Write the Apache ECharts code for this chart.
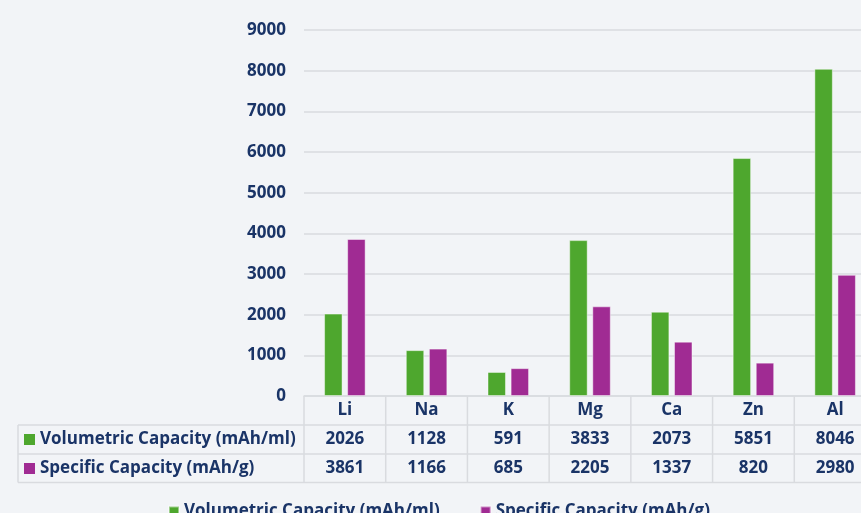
<!DOCTYPE html>
<html>
<head>
<meta charset="utf-8">
<script src="https://cdn.jsdelivr.net/npm/echarts@6/dist/echarts.min.js"></script>
<style>
html,body{margin:0;padding:0;background:#f2f4f7;overflow:hidden;width:861px;height:513px;}
#c{width:876px;height:513px;}
</style>
</head>
<body>
<div id="c"></div>
<script>
var categories = ['Li','Na','K','Mg','Ca','Zn','Al'];
var volumetric = [2026,1128,591,3833,2073,5851,8046];
var specific = [3861,1166,685,2205,1337,820,2980];
var seriesNames = ['Volumetric Capacity (mAh/ml)','Specific Capacity (mAh/g)'];
var yTicks = {min:0, max:9000, interval:1000};

var TEXT = '#1a3467';
var GREEN = '#4ea72e';
var PURPLE = '#a02b93';
var LINE = '#d9dbdf';
var FONT = '"Open Sans", sans-serif';
var FS = 17;

var chart = echarts.init(document.getElementById('c'), null, {renderer:'canvas'});

function rowAxis(offset, fmt){
  return {
    type:'category', data:categories, position:'bottom', offset:offset, gridIndex:0,
    axisLine:{show:false}, axisTick:{show:false}, splitLine:{show:false},
    axisLabel:{color:TEXT, fontWeight:'bold', fontSize:FS, fontFamily:FONT, margin:6, interval:0, formatter:fmt}
  };
}

var option = {
  backgroundColor:'#f2f4f7',
  animation:false,
  grid:{left:304, right:0, top:30, bottom:117},
  legend:{
    left:168, top:503, padding:0, itemWidth:10, itemHeight:10, itemGap:40,
    icon:'rect',
    textStyle:{color:TEXT, fontWeight:'bold', fontSize:FS, fontFamily:FONT},
    data:seriesNames
  },
  xAxis:[
    {
      type:'category', data:categories,
      axisLine:{show:true, lineStyle:{color:LINE, width:1.5}},
      axisTick:{show:false},
      axisLabel:{color:TEXT, fontWeight:'bold', fontSize:FS, fontFamily:FONT, margin:6, interval:0}
    },
    rowAxis(29, function(v, i){ return String(volumetric[i]); }),
    rowAxis(58, function(v, i){ return String(specific[i]); })
  ],
  yAxis:{
    type:'value', min:yTicks.min, max:yTicks.max, interval:yTicks.interval,
    axisLine:{show:false}, axisTick:{show:false},
    splitLine:{lineStyle:{color:LINE, width:1.5}},
    axisLabel:{color:TEXT, fontWeight:'bold', fontSize:FS, fontFamily:FONT, margin:18,
      formatter:function(v){ return String(v); }}
  },
  series:[
    {name:seriesNames[0], type:'bar', data:volumetric, barWidth:'22.6%', barGap:'25%',
     itemStyle:{color:GREEN, borderColor:'rgba(255,255,255,0.45)', borderWidth:1}},
    {name:seriesNames[1], type:'bar', data:specific, barWidth:'22.6%', barGap:'25%',
     itemStyle:{color:PURPLE, borderColor:'rgba(255,255,255,0.45)', borderWidth:1}}
  ]
};
chart.setOption(option);

// Data table lines built from the axis scales
var x0 = chart.convertToPixel({xAxisIndex:0}, 0);
var x1 = chart.convertToPixel({xAxisIndex:0}, 1);
var band = x1 - x0;
var yBase = chart.convertToPixel({yAxisIndex:0}, 0);
var rowH = 29;
var tableLeft = 18;
var gridLeft = x0 - band/2;
var gridRight = gridLeft + band*categories.length;
var yH = yBase, y1 = yBase + rowH, y2 = yBase + 2*rowH, y3 = yBase + 3*rowH - 0.5;
var els = [];
function line(xa, ya, xb, yb){
  els.push({type:'line', shape:{x1:xa, y1:ya, x2:xb, y2:yb}, style:{stroke:LINE, lineWidth:1.5}, silent:true});
}
line(tableLeft, y1, gridRight, y1);
line(tableLeft, y2, gridRight, y2);
line(tableLeft, y3, gridRight, y3);
line(tableLeft, y1, tableLeft, y3);
for (var i = 0; i <= categories.length; i++) {
  var bx = gridLeft + i*band;
  line(bx, yH, bx, y3);
}
var colors = [GREEN, PURPLE];
for (var r = 0; r < 2; r++) {
  var cy = yBase + rowH*(r+1) + rowH/2;
  els.push({type:'rect', shape:{x:24, y:cy-5.5, width:11, height:11}, style:{fill:colors[r]}, silent:true});
  els.push({type:'text', x:40, y:cy, style:{text:seriesNames[r], fill:TEXT, font:'bold ' + FS + 'px ' + FONT, verticalAlign:'middle', align:'left'}, silent:true});
}
chart.setOption({graphic:els});
</script>
</body>
</html>
